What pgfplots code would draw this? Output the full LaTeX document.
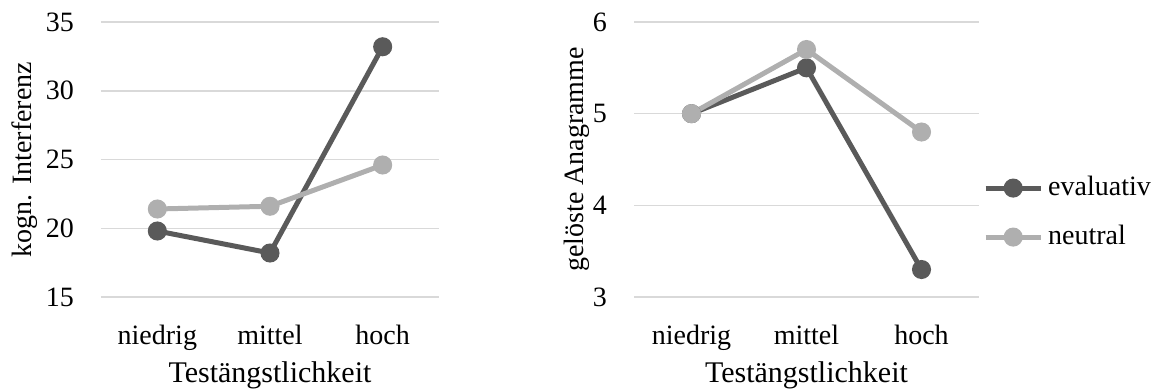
\documentclass[border=0pt]{standalone}
\usepackage{fontspec}
\setmainfont{Liberation Serif}
\usepackage{pgfplots}
\pgfplotsset{compat=1.18}
\definecolor{evalc}{HTML}{5A5A5A}
\definecolor{neutc}{HTML}{AFAFAF}
\definecolor{gridc}{HTML}{D9D9D9}
\pgfplotsset{
  mystyle/.style={
    scale only axis, anchor=south west,
    xmin=-0.5, xmax=2.5,
    xtick={0,1,2}, xticklabels={niedrig,mittel,hoch},
    axis line style={draw=none},
    major tick length=0pt,
    ymajorgrids, grid style={gridc, line width=1.5pt},
    /pgf/number format/assume math mode=true,
    tick label style={font=\fontsize{28}{32}\selectfont, text=black},
    label style={font=\fontsize{28}{32}\selectfont, text=black},
    xticklabel style={inner sep=0pt, anchor=north, yshift=-28pt},
    yticklabel style={inner sep=0pt, anchor=east, xshift=-27pt},
    xlabel style={at={([yshift=-85pt]axis description cs:0.5,0)}, anchor=base, inner sep=0pt, font=\fontsize{30}{34}\selectfont},
    xlabel={Testängstlichkeit},
    every axis plot/.append style={line width=5pt, mark=*, mark size=7pt, mark options={draw=none}},
  }
}
\begin{document}
\begin{tikzpicture}[x=1pt,y=1pt]
\path[use as bounding box] (0,0) rectangle (1163,389);
\begin{axis}[mystyle, at={(101pt,92pt)}, width=338pt, height=275pt,
  ymin=15, ymax=35, ytick={15,20,25,30,35},
  ylabel={kogn. Interferenz},
  ylabel style={at={([xshift=-69pt]axis description cs:0,0.5)}, anchor=base, inner sep=0pt},
]
\addplot[evalc] coordinates {(0,19.8) (1,18.2) (2,33.2)};
\addplot[neutc] coordinates {(0,21.4) (1,21.6) (2,24.6)};
\end{axis}
\begin{axis}[mystyle, at={(634pt,92pt)}, width=345pt, height=275pt,
  ymin=3, ymax=6, ytick={3,4,5,6},
  ylabel={gelöste Anagramme},
  ylabel style={at={([xshift=-51pt]axis description cs:0,0.5)}, anchor=base, inner sep=0pt},
  legend cell align=left,
  legend image code/.code={\draw[mark repeat=2, mark phase=2, #1] plot coordinates {(0pt,0pt) (27.5pt,0pt) (55pt,0pt)};},
  legend style={draw=none, fill=none, inner sep=0pt, anchor=west, at={(1.0116,0.307)},
    font=\fontsize{28}{32}\selectfont,
    nodes={inner sep=0pt, text height=20pt, text depth=6pt, anchor=west},
    row sep=23pt, column sep=5pt},
]
\addplot[evalc] coordinates {(0,5.0) (1,5.5) (2,3.3)};
\addlegendentry{evaluativ}
\addplot[neutc] coordinates {(0,5.0) (1,5.7) (2,4.8)};
\addlegendentry{neutral}
\end{axis}
\end{tikzpicture}
\end{document}
